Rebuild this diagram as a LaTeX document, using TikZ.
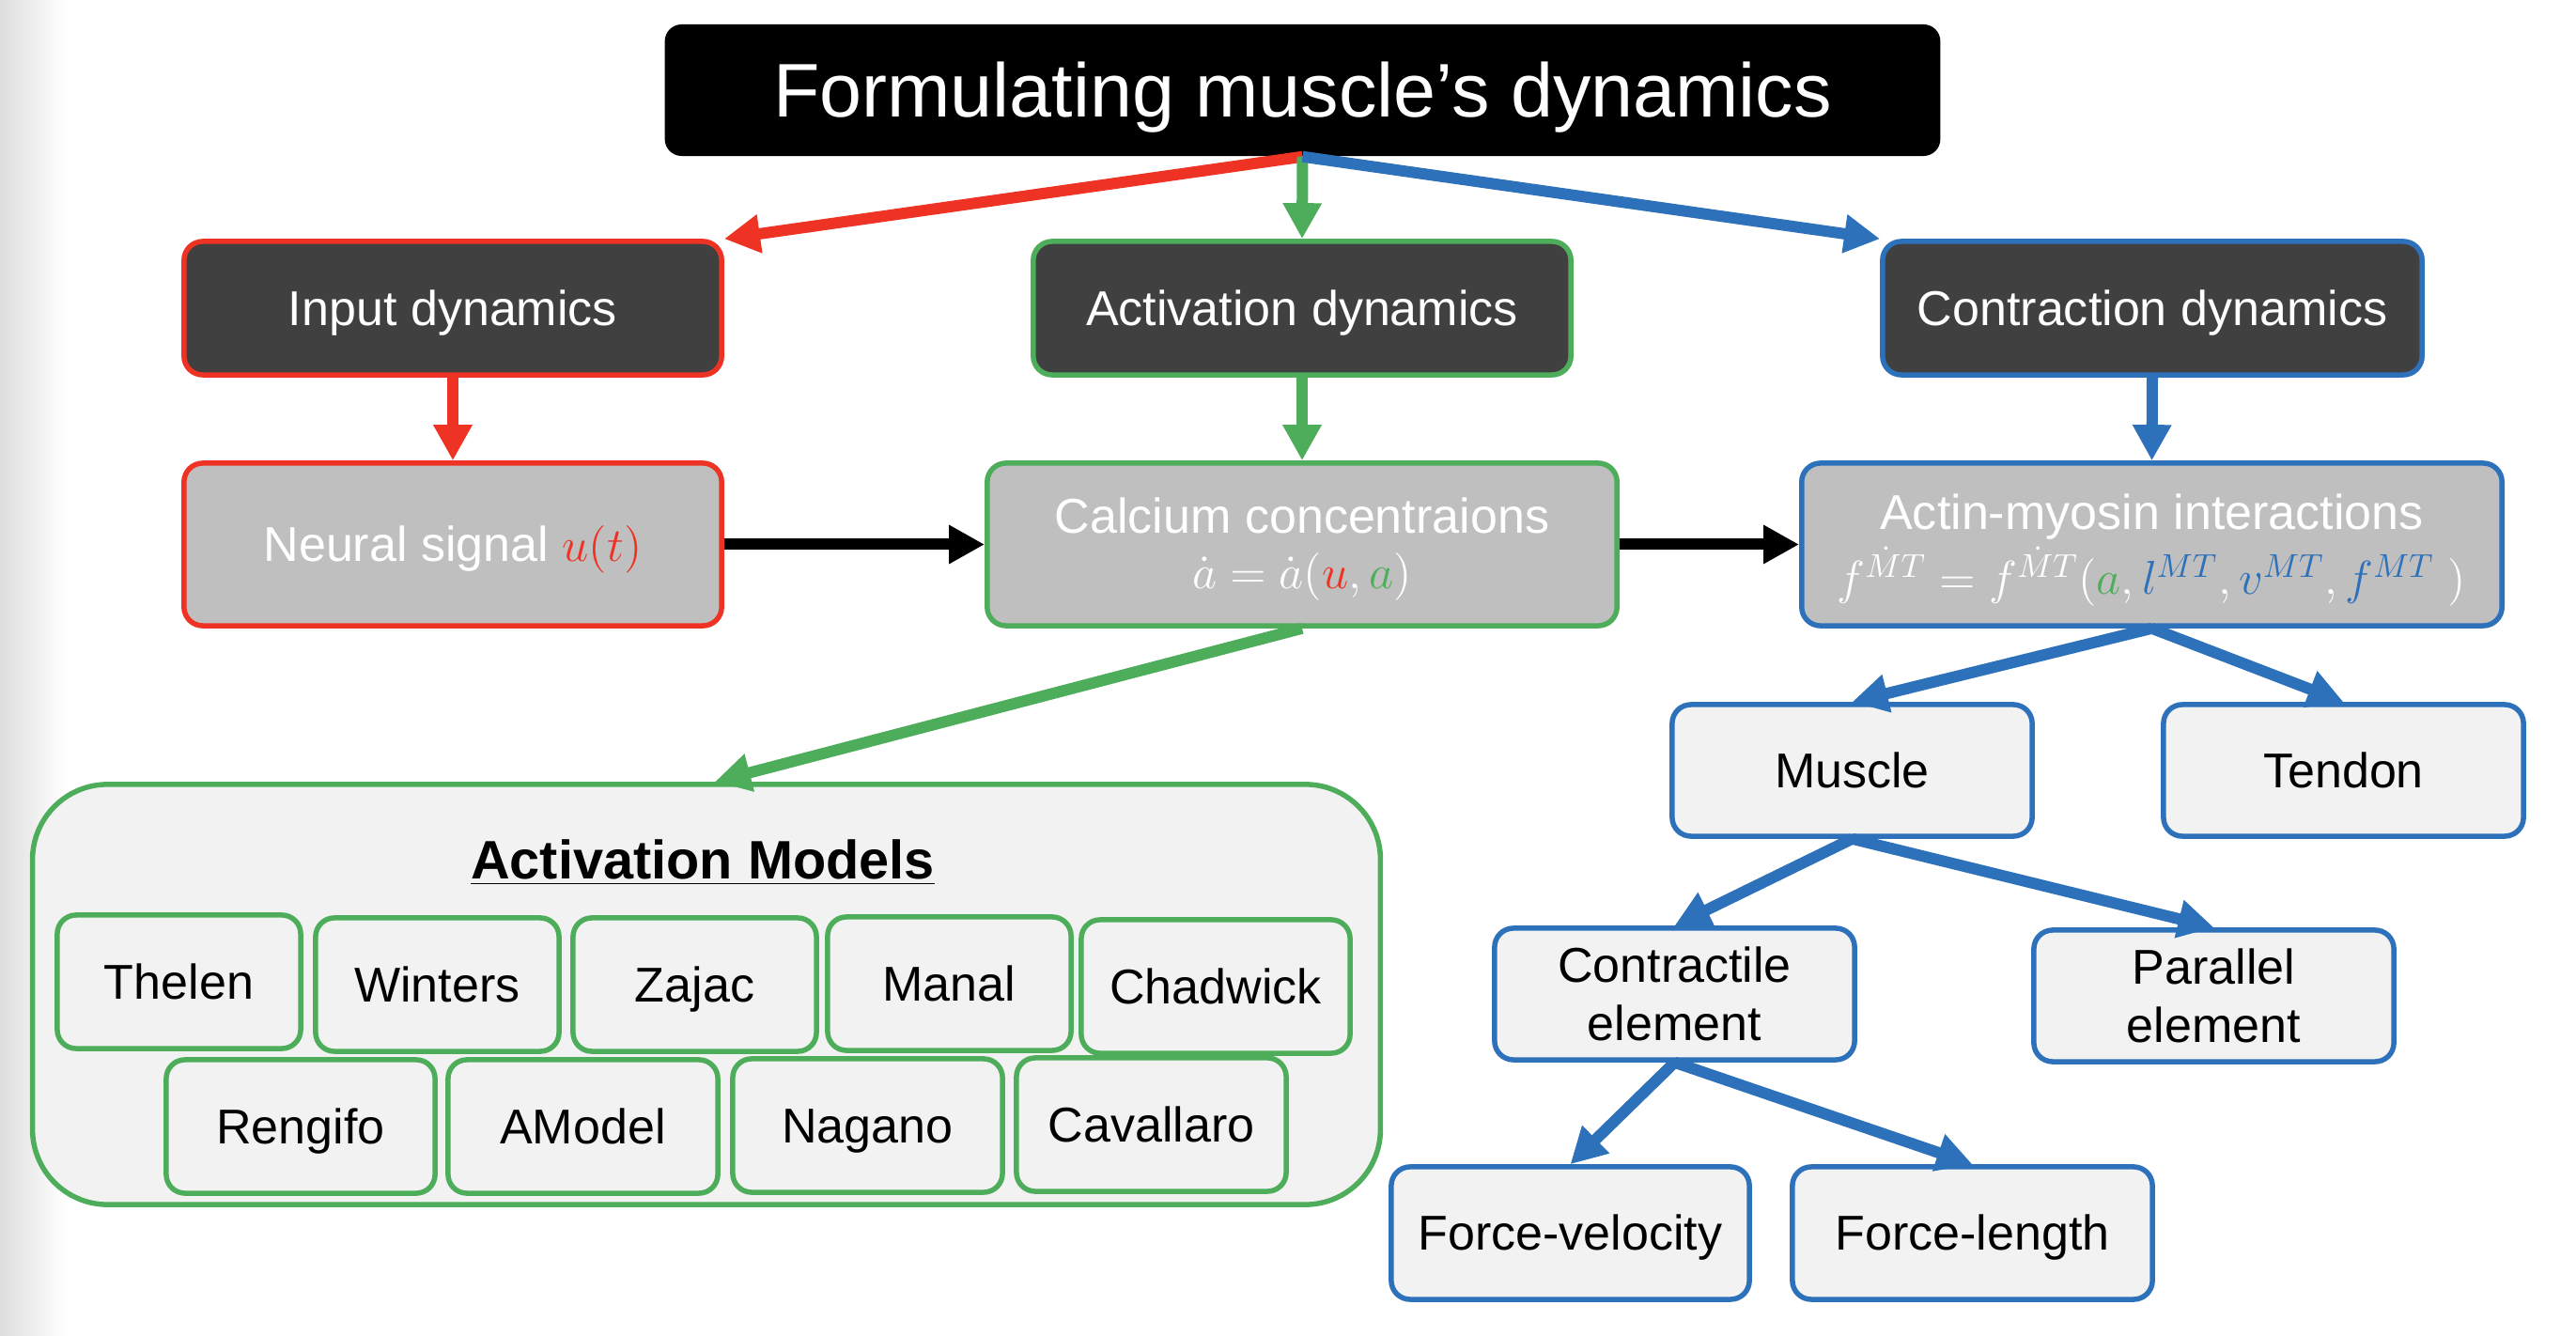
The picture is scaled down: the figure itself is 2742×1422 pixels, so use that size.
\documentclass[tikz,border=0pt]{standalone}
\usepackage{fontspec}
\setmainfont{Liberation Sans}
\usetikzlibrary{arrows.meta,calc}
\definecolor{mred}{RGB}{238,50,36}
\definecolor{mgreen}{RGB}{78,173,91}
\definecolor{mblue}{RGB}{45,113,187}
\definecolor{dgray}{RGB}{64,64,64}
\definecolor{lgray}{RGB}{191,191,191}
\definecolor{lbg}{RGB}{242,242,242}
\newcommand{\fsn}{\fontsize{14.8}{17.8}\selectfont}
\newcommand{\lowerby}[2]{\raisebox{-#1}[\height][\depth]{#2}}
\tikzset{
  boxbase/.style={rounded corners=0.2cm, line width=0.055cm, inner sep=0pt, align=center, font=\fsn},
  oneline/.style={text height=14pt, text depth=3.7pt},
  darkbox/.style={boxbase, oneline, fill=dgray, text=white, minimum width=5.72cm, minimum height=1.42cm},
  graybox/.style={boxbase, fill=lgray, text=white, minimum height=1.73cm},
  lightbox/.style={boxbase, fill=lbg, text=black, draw=mblue, minimum width=3.83cm, minimum height=1.40cm},
  modelbox/.style={boxbase, oneline, fill=lbg, text=black, draw=mgreen, minimum height=1.42cm},
  arr/.style={line width=0.12cm, -{Triangle[length=0.38cm,width=0.39cm]}},
}
\begin{document}
\begin{tikzpicture}[x=0.01cm,y=-0.01cm]
\useasboundingbox (0,0) rectangle (2742,1422);
\fill[white] (0,0) rectangle (2742,1422);
\shade[left color=black!13, right color=white] (0,0) rectangle (70,1422);

% title
\node[rounded corners=0.18cm, fill=black, text=white, minimum width=13.57cm, minimum height=1.40cm, inner sep=0pt, text height=21.8pt, text depth=5.75pt, font=\fontsize{23}{27}\selectfont] (title) at (1386.5,96) {Formulating muscle’s dynamics};

% level 1
\node[darkbox, draw=mred] (input) at (482,328) {Input dynamics};
\node[darkbox, draw=mgreen] (actdyn) at (1386,328) {Activation dynamics};
\node[darkbox, draw=mblue, minimum width=5.74cm] (contdyn) at (2291,328) {Contraction dynamics};

% level 2
\node[graybox, oneline, draw=mred, minimum width=5.72cm] (neural) at (482,579.5) {Neural signal $\textcolor{mred}{u(t)}$};
\node[graybox, draw=mgreen, minimum width=6.70cm] (calcium) at (1386,579.5) {\lowerby{1.5pt}{Calcium concentraions}\\[-1pt] \lowerby{1.5pt}{$\dot a = \dot a(\textcolor{mred}{u}, \textcolor{mgreen}{a})$}};
\node[graybox, draw=mblue, minimum width=7.45cm] (actin) at (2290.5,579.5) {\lowerby{1.7pt}{Actin-myosin interactions}\\[2pt] \lowerby{1.7pt}{$f^{\dot MT} = f^{\dot MT}(\textcolor{mgreen}{a}, \textcolor{mblue}{l^{MT}}, \textcolor{mblue}{v^{MT}}, \textcolor{mblue}{f^{MT}}\ )$}};

% right tree
\node[lightbox, oneline] (muscle) at (1971.5,820) {Muscle};
\node[lightbox, oneline] (tendon) at (2494.5,820) {Tendon};
\node[lightbox] (contractile) at (1782.5,1058) {Contractile\\element};
\node[lightbox] (parallel) at (2356.5,1060) {Parallel\\element};
\node[lightbox, oneline, minimum width=3.81cm, minimum height=1.41cm] (fv) at (1671.5,1312.5) {Force-velocity};
\node[lightbox, oneline, minimum height=1.41cm] (fl) at (2099.5,1312.5) {Force-length};

% activation models
\node[rounded corners=0.8cm, line width=0.055cm, draw=mgreen, fill=lbg, minimum width=14.34cm, minimum height=4.47cm, inner sep=0pt] (models) at (752,1058.5) {};
\node[font=\fontsize{16.4}{19}\selectfont\bfseries, inner sep=0pt] (mtitle) at (748,918) {\underline{Activation Models}};
\node[modelbox, minimum width=2.59cm] (thelen) at (190.5,1045) {Thelen};
\node[modelbox, minimum width=2.59cm] (winters) at (465.5,1048) {Winters};
\node[modelbox, minimum width=2.59cm] (zajac) at (739.5,1048) {Zajac};
\node[modelbox, minimum width=2.59cm] (manal) at (1010.5,1047) {Manal};
\node[modelbox, minimum width=2.86cm] (chadwick) at (1294,1050) {Chadwick};
\node[modelbox, minimum width=2.86cm] (rengifo) at (320,1199) {Rengifo};
\node[modelbox, minimum width=2.87cm] (amodel) at (620.5,1199) {AModel};
\node[modelbox, minimum width=2.87cm] (nagano) at (923.5,1198) {Nagano};
\node[modelbox, minimum width=2.87cm] (cavallaro) at (1225.5,1197) {Cavallaro};

% connectors
\draw[arr, mred] (title.south) -- (input.north east);
\draw[arr, mgreen] (title.south) -- (actdyn.north);
\draw[arr, mblue] (title.south) -- (contdyn.north west);
\draw[arr, mred] (input.south) -- (neural.north);
\draw[arr, mgreen] (actdyn.south) -- (calcium.north);
\draw[arr, mblue] (contdyn.south) -- (actin.north);
\draw[arr, black] (neural.east) -- (calcium.west);
\draw[arr, black] (calcium.east) -- (actin.west);
\draw[arr, mgreen] (calcium.south) -- ($(models.north)+(9,0)$);
\draw[arr, mblue] (actin.south) -- (muscle.north);
\draw[arr, mblue] (actin.south) -- (tendon.north);
\draw[arr, mblue] (muscle.south) -- (contractile.north);
\draw[arr, mblue] (muscle.south) -- (parallel.north);
\draw[arr, mblue] (contractile.south) -- (fv.north);
\draw[arr, mblue] (contractile.south) -- (fl.north);
\end{tikzpicture}
\end{document}
